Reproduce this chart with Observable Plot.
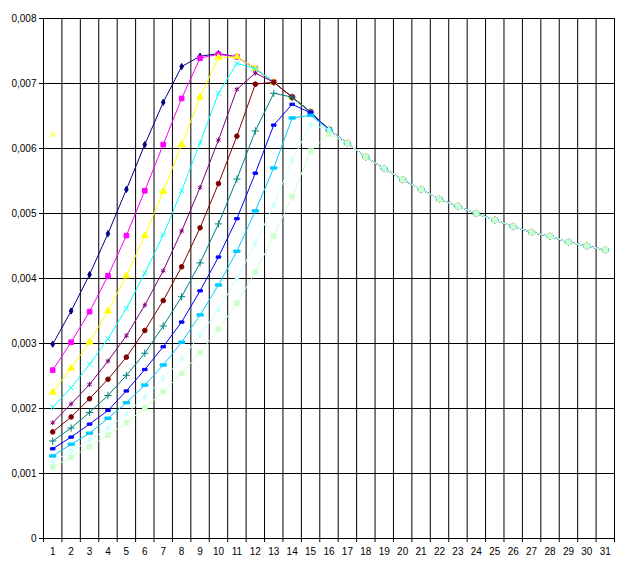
<!DOCTYPE html>
<html><head><meta charset="utf-8">
<script src="https://cdn.jsdelivr.net/npm/d3@7"></script>
<script src="https://cdn.jsdelivr.net/npm/@observablehq/plot@0.6"></script>
<style>
body{margin:0;background:#fff}
#chart svg{display:block;font-family:"Liberation Sans",Arial,sans-serif}
</style>
</head><body><div id="chart"></div>
<script>
const categories = [1,2,3,4,5,6,7,8,9,10,11,12,13,14,15,16,17,18,19,20,21,22,23,24,25,26,27,28,29,30,31];
const yTicks = [0,0.001,0.002,0.003,0.004,0.005,0.006,0.007,0.008];

const s1  = [0.00299,0.00350,0.00406,0.00469,0.00537,0.00606,0.00671,0.00726,0.00742,0.00746,0.00741,0.00723,0.00702,0.00679,0.00656,0.00629,0.00608,0.00587,0.00569,0.00552,0.00537,0.00522,0.00511,0.00500,0.00490,0.00480,0.00471,0.00465,0.00456,0.00450,0.00444];
const s2  = [0.00259,0.00302,0.00349,0.00404,0.00466,0.00535,0.00606,0.00677,0.00739,0.00745,0.00741,0.00723,0.00702,0.00679,0.00656,0.00629,0.00608,0.00587,0.00569,0.00552,0.00537,0.00522,0.00511,0.00500,0.00490,0.00480,0.00471,0.00465,0.00456,0.00450,0.00444];
const s3  = [0.00225,0.00262,0.00302,0.00350,0.00404,0.00466,0.00534,0.00606,0.00679,0.00740,0.00741,0.00723,0.00702,0.00679,0.00656,0.00629,0.00608,0.00587,0.00569,0.00552,0.00537,0.00522,0.00511,0.00500,0.00490,0.00480,0.00471,0.00465,0.00456,0.00450,0.00444];
const s4  = [0.00202,0.00232,0.00268,0.00307,0.00354,0.00408,0.00467,0.00535,0.00609,0.00685,0.00731,0.00723,0.00702,0.00679,0.00656,0.00629,0.00608,0.00587,0.00569,0.00552,0.00537,0.00522,0.00511,0.00500,0.00490,0.00480,0.00471,0.00465,0.00456,0.00450,0.00444];
const s5  = [0.00178,0.00207,0.00237,0.00273,0.00312,0.00359,0.00412,0.00473,0.00540,0.00613,0.00691,0.00716,0.00702,0.00679,0.00656,0.00629,0.00608,0.00587,0.00569,0.00552,0.00537,0.00522,0.00511,0.00500,0.00490,0.00480,0.00471,0.00465,0.00456,0.00450,0.00444];
const s6  = [0.00164,0.00187,0.00215,0.00245,0.00279,0.00320,0.00366,0.00418,0.00478,0.00546,0.00619,0.00699,0.00702,0.00679,0.00656,0.00629,0.00608,0.00587,0.00569,0.00552,0.00537,0.00522,0.00511,0.00500,0.00490,0.00480,0.00471,0.00465,0.00456,0.00450,0.00444];
const s7  = [0.00150,0.00170,0.00194,0.00220,0.00251,0.00285,0.00327,0.00372,0.00424,0.00484,0.00553,0.00627,0.00685,0.00679,0.00656,0.00629,0.00608,0.00587,0.00569,0.00552,0.00537,0.00522,0.00511,0.00500,0.00490,0.00480,0.00471,0.00465,0.00456,0.00450,0.00444];
const s8  = [0.00138,0.00156,0.00176,0.00197,0.00227,0.00260,0.00295,0.00333,0.00381,0.00433,0.00492,0.00562,0.00636,0.00668,0.00655,0.00629,0.00608,0.00587,0.00569,0.00552,0.00537,0.00522,0.00511,0.00500,0.00490,0.00480,0.00471,0.00465,0.00456,0.00450,0.00444];
const s9  = [0.00127,0.00145,0.00162,0.00185,0.00209,0.00236,0.00267,0.00302,0.00344,0.00390,0.00442,0.00504,0.00570,0.00647,0.00651,0.00629,0.00608,0.00587,0.00569,0.00552,0.00537,0.00522,0.00511,0.00500,0.00490,0.00480,0.00471,0.00465,0.00456,0.00450,0.00444];
const s10 = [0.00118,0.00134,0.00151,0.00170,0.00192,0.00218,0.00246,0.00276,0.00313,0.00352,0.00400,0.00454,0.00513,0.00582,0.00637,0.00629,0.00608,0.00587,0.00569,0.00552,0.00537,0.00522,0.00511,0.00500,0.00490,0.00480,0.00471,0.00465,0.00456,0.00450,0.00444];
const s11 = [0.00110,0.00125,0.00141,0.00159,0.00178,0.00201,0.00226,0.00254,0.00286,0.00322,0.00362,0.00410,0.00465,0.00526,0.00596,0.00622,0.00608,0.00587,0.00569,0.00552,0.00537,0.00522,0.00511,0.00500,0.00490,0.00480,0.00471,0.00465,0.00456,0.00450,0.00444];
const s12 = [0.00622];

const colors = ["#000080","#FF00FF","#FFFF00","#00FFFF","#800080","#800000","#008080","#0000FF","#00CCFF","#CCFFFF","#CCFFCC","#FFFF99"];

const dashShort = {draw(ctx, size){ const r = Math.sqrt(size/Math.PI); ctx.rect(-r*0.9, -r*0.45, r*1.8, r*0.9); }};
const dashLong = {draw(ctx, size){ const r = Math.sqrt(size/Math.PI); ctx.rect(-r*1.3, -r*0.5, r*2.6, r*1.0); }};
const symbols = ["diamond","square","triangle","times","asterisk","circle","plus",dashShort,dashLong,"diamond","square","triangle"];
const sizes = [1.9,2.6,2.5,2.3,2.4,2.3,2.5,2.5,2.4,1.9,2.6,2.5];

const seriesList = [s1,s2,s3,s4,s5,s6,s7,s8,s9,s10,s11,s12];
const boundaries = d3.range(0.5, 32, 1);
const fmt = d => d === 0 ? "0" : d.toFixed(3).replace(".", ",");

const marks = [
  Plot.ruleY(yTicks.slice(1), {stroke: "black", strokeWidth: 1}),
  Plot.ruleX(boundaries, {stroke: "black", strokeWidth: 1}),
  Plot.ruleY([0], {stroke: "black"}),
  Plot.axisY({ticks: yTicks, tickFormat: fmt, tickSize: 4, tickPadding: 3, stroke: "black", fontSize: 10, label: null}),
  Plot.axisX({ticks: boundaries, tickFormat: () => "", tickSize: 4, stroke: "black", label: null}),
  Plot.axisX({ticks: categories, tickFormat: d => String(d), tickSize: 0, tickPadding: 9, fontSize: 10, label: null})
];

seriesList.forEach((vals, i) => {
  const data = vals.map((v, j) => ({x: categories[j], y: v}));
  const c = colors[i];
  if (data.length > 1) marks.push(Plot.line(data, {x: "x", y: "y", stroke: c, strokeWidth: 1}));
  marks.push(Plot.dot(data, {x: "x", y: "y", symbol: () => symbols[i], r: sizes[i], fill: c, stroke: c, strokeWidth: 1}));
});

const chart = Plot.plot({
  width: 624, height: 570,
  marginLeft: 43, marginRight: 10, marginTop: 18, marginBottom: 32,
  style: {background: "#fff", color: "black", fontFamily: "'Liberation Sans', Arial, sans-serif"},
  x: {type: "linear", domain: [0.5, 31.5], axis: null},
  y: {domain: [0, 0.008], axis: null},
  symbol: {type: "identity"},
  marks
});
document.getElementById("chart").append(chart);
</script>
</body></html>
